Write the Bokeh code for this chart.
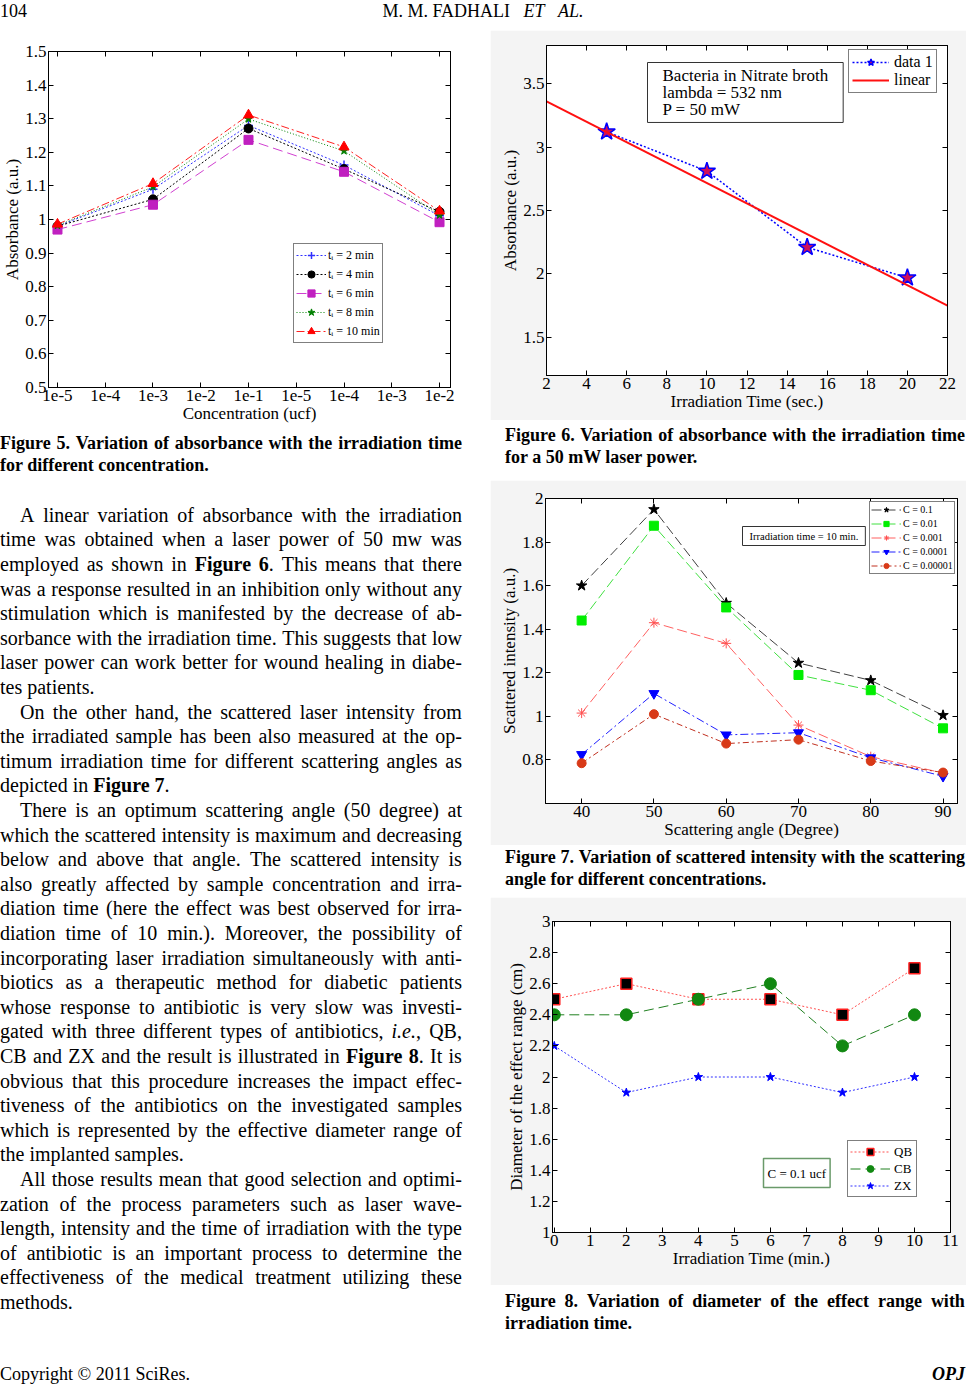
from bokeh.plotting import figure
from bokeh.models import (Range1d, FixedTicker, LinearAxis, Legend, LegendItem,
                          Label, Div, Spacer, PrintfTickFormatter, CustomJSTickFormatter)
from bokeh.layouts import column, row
from bokeh.embed import file_html
from bokeh.resources import INLINE

SERIF = "Liberation Serif"

# ---------------- Figure 5 data ----------------
f5_tick_pos = [1, 2, 3, 4, 5, 6, 7, 8, 9]
f5_tick_labels = ["1e-5", "1e-4", "1e-3", "1e-2", "1e-1", "1e-5", "1e-4", "1e-3", "1e-2"]
f5_pos = [1, 3, 5, 7, 9]
f5_t2 = [0.98, 1.09, 1.28, 1.162, 1.011]
f5_t4 = [0.98, 1.06, 1.271, 1.15, 1.023]
f5_t6 = [0.97, 1.044, 1.237, 1.142, 0.992]
f5_t8 = [0.982, 1.097, 1.299, 1.204, 1.013]
f5_t10 = [0.986, 1.107, 1.311, 1.216, 1.025]
f5_y_ticks = [0.5, 0.6, 0.7, 0.8, 0.9, 1.0, 1.1, 1.2, 1.3, 1.4, 1.5]

# ---------------- Figure 6 data ----------------
f6_time = [5, 10, 15, 20]
f6_abs = [3.12, 2.81, 2.21, 1.97]
f6_fit_time = [2, 22]
f6_fit_abs = [3.36, 1.75]
f6_x_ticks = [2, 4, 6, 8, 10, 12, 14, 16, 18, 20, 22]
f6_y_ticks = [1.5, 2.0, 2.5, 3.0, 3.5]

# ---------------- Figure 7 data ----------------
f7_angle = [40, 50, 60, 70, 80, 90]
f7_c1 = [1.60, 1.95, 1.52, 1.245, 1.165, 1.005]
f7_c01 = [1.44, 1.875, 1.50, 1.19, 1.12, 0.945]
f7_c001 = [1.015, 1.43, 1.335, 0.96, 0.815, 0.74]
f7_c0001 = [0.825, 1.105, 0.915, 0.925, 0.81, 0.725]
f7_c00001 = [0.785, 1.01, 0.875, 0.893, 0.795, 0.742]
f7_x_ticks = [40, 50, 60, 70, 80, 90]
f7_y_ticks = [0.8, 1.0, 1.2, 1.4, 1.6, 1.8, 2.0]

# ---------------- Figure 8 data ----------------
f8_time = [0, 2, 4, 6, 8, 10]
f8_qb = [2.5, 2.6, 2.5, 2.5, 2.4, 2.7]
f8_cb = [2.4, 2.4, 2.5, 2.6, 2.2, 2.4]
f8_zx = [2.2, 1.9, 2.0, 2.0, 1.9, 2.0]
f8_x_ticks = [0, 1, 2, 3, 4, 5, 6, 7, 8, 9, 10, 11]
f8_y_ticks = [1.0, 1.2, 1.4, 1.6, 1.8, 2.0, 2.2, 2.4, 2.6, 2.8, 3.0]


def base_fig(w, h, xr, yr, borders, xticks, yticks, xlabel, ylabel, bg,
             tick_fs="17px", label_fs="17px"):
    bl, br, bt, bb = borders
    p = figure(width=w, height=h, x_range=Range1d(*xr), y_range=Range1d(*yr),
               output_backend="svg", toolbar_location=None, title=None,
               min_border_left=bl, min_border_right=br, min_border_top=bt,
               min_border_bottom=bb, background_fill_color="white",
               border_fill_color=bg, frame_align=False)
    p.xgrid.visible = False
    p.ygrid.visible = False
    p.outline_line_color = "black"
    p.outline_line_alpha = 1.0
    xa = p.below[0]
    ya = p.left[0]
    xa.ticker = FixedTicker(ticks=xticks)
    ya.ticker = FixedTicker(ticks=yticks)
    xa.axis_label = xlabel
    ya.axis_label = ylabel
    for ax in (xa, ya):
        ax.formatter = PrintfTickFormatter(format="%g")
        ax.major_tick_in = 5
        ax.major_tick_out = 0
        ax.minor_tick_in = 0
        ax.minor_tick_out = 0
        ax.minor_tick_line_color = None
        ax.axis_line_color = "black"
        ax.major_tick_line_color = "black"
        ax.major_label_text_font = SERIF
        ax.major_label_text_font_size = tick_fs
        ax.major_label_text_color = "black"
        ax.axis_label_text_font = SERIF
        ax.axis_label_text_font_size = label_fs
        ax.axis_label_text_font_style = "normal"
        ax.axis_label_text_color = "black"
        ax.axis_label_standoff = 0
        ax.major_label_standoff = 2
    for loc, ticks in (("above", xticks), ("right", yticks)):
        m = LinearAxis(ticker=FixedTicker(ticks=ticks),
                       formatter=CustomJSTickFormatter(code="return ''"),
                       major_label_text_font_size="1px", major_label_text_color=None,
                       major_label_standoff=0, major_tick_in=5, major_tick_out=0,
                       minor_tick_in=0, minor_tick_out=0, minor_tick_line_color=None,
                       axis_line_color="black", major_tick_line_color="black")
        p.add_layout(m, loc)
    return p, xa, ya


def series(p, x, y, color, dash, marker, size, mfill, mline=None, lw=1.0, mlw=1.0):
    ln = p.line(x, y, line_color=color, line_dash=dash, line_width=lw)
    sc = p.scatter(x, y, marker=marker, size=size, fill_color=mfill,
                   line_color=mline if mline else mfill, line_width=mlw)
    return [ln, sc]


def make_legend(items, loc, fs, gw, gh, pad, spacing, standoff):
    return Legend(items=[LegendItem(label=l, renderers=r) for l, r in items],
                  location=loc, border_line_color="black", border_line_width=1,
                  background_fill_color="white", background_fill_alpha=1.0,
                  label_text_font=SERIF, label_text_font_size=fs,
                  label_text_color="black", glyph_width=gw, glyph_height=gh,
                  label_height=gh, spacing=spacing, padding=pad, margin=0,
                  label_standoff=standoff)


# ---------------- Figure 5 ----------------
p5, p5x, p5y = base_fig(462, 395, (0.812, 9.23), (0.5, 1.5), (47, 12, 21, 38),
                        f5_tick_pos, f5_y_ticks, "Concentration (ucf)", "Absorbance (a.u.)", "white")
p5x.formatter = CustomJSTickFormatter(
    args=dict(labels=f5_tick_labels),
    code="const i = Math.round(tick) - 1; return (i >= 0 && i < labels.length) ? labels[i] : '';")
r2 = series(p5, f5_pos, f5_t2, "#3030ff", "2 2", "cross", 9, "#3030ff", mlw=1.5)
r4 = series(p5, f5_pos, f5_t4, "black", "2 2", "circle", 9, "black")
r6 = series(p5, f5_pos, f5_t6, "#d040d0", "10 5", "square", 9, "#c020c0")
r8 = series(p5, f5_pos, f5_t8, "#008000", "1 2", "star", 8, "#008000")
r10 = series(p5, f5_pos, f5_t10, "#ff2020", "8 3 2 3", "triangle", 10, "#ff0000")
p5.add_layout(make_legend([("t\u1d62 = 2 min", r2), ("t\u1d62 = 4 min", r4),
                           ("t\u1d62 = 6 min", r6), ("t\u1d62 = 8 min", r8),
                           ("t\u1d62 = 10 min", r10)],
                          (245, 44), "12px", 30, 18, 2, 1, 2))

# ---------------- Figure 6 ----------------
GRAYBG = "#f4f4f4"
p6, _, _ = base_fig(476, 390, (2, 22), (1.2, 3.8), (56, 19, 15, 45),
                    f6_x_ticks, f6_y_ticks, "Irradiation Time (sec.)", "Absorbance (a.u.)", GRAYBG)
d1 = series(p6, f6_time, f6_abs, "blue", "2 2", "star", 18, "#d0105a", mline="blue", lw=1.5, mlw=1.5)
lin = p6.line(f6_fit_time, f6_fit_abs, line_color="#ff1010", line_width=2)
p6.add_layout(make_legend([("data 1", d1), ("linear", [lin])],
                          (302, 282), "16px", 37, 18, 3, 0, 5))
p6.add_layout(Label(x=101, y=313, x_units="screen", y_units="screen",
                    text="Bacteria in Nitrate broth\nlambda = 532 nm\nP = 50 mW",
                    text_font=SERIF, text_font_size="17px", text_align="left",
                    text_baseline="top", text_line_height=0.92, text_color="black",
                    border_line_color="#333333", border_line_width=1,
                    background_fill_color="white", padding=(15, 3)))

# ---------------- Figure 7 ----------------
p7, _, _ = base_fig(476, 365, (35, 92), (0.6, 2.0), (55, 9, 18, 42),
                    f7_x_ticks, f7_y_ticks, "Scattering angle (Degree)", "Scattered intensity (a.u.)", GRAYBG)
c1 = series(p7, f7_angle, f7_c1, "#404040", "10 4", "star", 11, "black")
c01 = series(p7, f7_angle, f7_c01, "#40e040", "10 4", "square", 9, "#00ee00")
c001 = series(p7, f7_angle, f7_c001, "#ff6060", "10 4", "asterisk", 10, "#ff5050")
c0001 = series(p7, f7_angle, f7_c0001, "#2020ff", "8 3 2 3", "inverted_triangle", 10, "#0000ff")
c00001 = series(p7, f7_angle, f7_c00001, "#c03020", "6 3 2 3", "circle", 9, "#d83a18")
p7.add_layout(make_legend([("C = 0.1", c1), ("C = 0.01", c01), ("C = 0.001", c001),
                           ("C = 0.0001", c0001), ("C = 0.00001", c00001)],
                          (324, 229), "10px", 30, 13, 1, 1, 2))
p7.add_layout(Label(x=197, y=277, x_units="screen", y_units="screen",
                    text="Irradiation time = 10 min.",
                    text_font=SERIF, text_font_size="10.5px", text_align="left",
                    text_baseline="top", text_color="black",
                    border_line_color="#333333", border_line_width=1,
                    background_fill_color="white", padding=(7, 4)))

# ---------------- Figure 8 ----------------
p8, _, _ = base_fig(476, 388, (-0.05, 11), (1.0, 3.0), (62, 16, 24, 53),
                    f8_x_ticks, f8_y_ticks, "Irradiation Time (min.)", "Diameter of the effect range (cm)", GRAYBG)
qb = series(p8, f8_time, f8_qb, "#ff5050", "2 2", "square", 11, "black", mline="#ff2020", mlw=1.5)
cb = series(p8, f8_time, f8_cb, "#208020", "10 5", "circle", 12, "#118811")
zx = series(p8, f8_time, f8_zx, "#3030ff", "2 2", "star", 9, "#0000ff")
p8.add_layout(make_legend([("QB", qb), ("CB", cb), ("ZX", zx)],
                          (295, 35), "13px", 40, 17, 2, 0, 4))
p8.add_layout(Label(x=211, y=74, x_units="screen", y_units="screen",
                    text="C = 0.1 ucf",
                    text_font=SERIF, text_font_size="13px", text_align="left",
                    text_baseline="top", text_color="black",
                    border_line_color="#6a9a6a", border_line_width=1.5,
                    background_fill_color="white", padding=(4, 7)))

# ---------------- Page text ----------------
header_center = "M. M. FADHALI&nbsp;&nbsp;&nbsp;<i>ET</i>&nbsp;&nbsp;&nbsp;<i>AL.</i>"

cap5_lines = ["Figure 5. Variation of absorbance with the irradiation time",
              "for different concentration."]
cap6_lines = ["Figure 6. Variation of absorbance with the irradiation time",
              "for a 50 mW laser power."]
cap7_lines = ["Figure 7. Variation of scattered intensity with the scattering",
              "angle for different concentrations."]
cap8_lines = ["Figure 8. Variation of diameter of the effect range with",
              "irradiation time."]

# (text, kind) kind: "i" indented first line, "j" justified, "l" last line
body_lines = [
    ("A linear variation of absorbance with the irradiation", "i"),
    ("time was obtained when a laser power of 50 mw was", "j"),
    ("employed as shown in <b>Figure</b> <b>6</b>. This means that there", "j"),
    ("was a response resulted in an inhibition only without any", "j"),
    ("stimulation which is manifested by the decrease of ab-", "j"),
    ("sorbance with the irradiation time. This suggests that low", "j"),
    ("laser power can work better for wound healing in diabe-", "j"),
    ("tes patients.", "l"),
    ("On the other hand, the scattered laser intensity from", "i"),
    ("the irradiated sample has been also measured at the op-", "j"),
    ("timum irradiation time for different scattering angles as", "j"),
    ("depicted in <b>Figure 7</b>.", "l"),
    ("There is an optimum scattering angle (50 degree) at", "i"),
    ("which the scattered intensity is maximum and decreasing", "j"),
    ("below and above that angle. The scattered intensity is", "j"),
    ("also greatly affected by sample concentration and irra-", "j"),
    ("diation time (here the effect was best observed for irra-", "j"),
    ("diation time of 10 min.). Moreover, the possibility of", "j"),
    ("incorporating laser irradiation simultaneously with anti-", "j"),
    ("biotics as a therapeutic method for diabetic patients", "j"),
    ("whose response to antibiotic is very slow was investi-", "j"),
    ("gated with three different types of antibiotics, <i>i.e.</i>, QB,", "j"),
    ("CB and ZX and the result is illustrated in <b>Figure</b> <b>8</b>. It is", "j"),
    ("obvious that this procedure increases the impact effec-", "j"),
    ("tiveness of the antibiotics on the investigated samples", "j"),
    ("which is represented by the effective diameter range of", "j"),
    ("the implanted samples.", "l"),
    ("All those results mean that good selection and optimi-", "i"),
    ("zation of the process parameters such as laser wave-", "j"),
    ("length, intensity and the time of irradiation with the type", "j"),
    ("of antibiotic is an important process to determine the", "j"),
    ("effectiveness of the medical treatment utilizing these", "j"),
    ("methods.", "l"),
]


def line_html(html, top, left, width, lh, justify):
    base = (f"position:absolute;left:{left}px;top:{top:.1f}px;width:{width}px;"
            f"height:{lh}px;line-height:{lh}px;white-space:nowrap;")
    if justify:
        inner = "".join(f"<span>{w}</span>" for w in html.split(" "))
        return f'<div style="{base}display:flex;justify-content:space-between;">{inner}</div>'
    return f'<div style="{base}">{html}</div>'


def caption_html(lines, tops, left, width):
    out = []
    for k, (t, top) in enumerate(zip(lines, tops)):
        out.append(line_html(t, top, left, width, 22, k < len(lines) - 1))
    return ('<div style="font-weight:bold;font-size:18px;">' + "".join(out) + "</div>")


def box(inner, w, h):
    return (f'<div style="position:relative;width:{w}px;height:{h}px;'
            f"font-family:'Liberation Serif',serif;color:#000;font-size:20px;\">{inner}</div>")


header_div = Div(width=966, height=30, margin=0, text=box(
    '<div style="position:absolute;left:0;top:0;font-size:18px;line-height:22px;">104</div>'
    f'<div style="position:absolute;left:0;top:0;width:966px;text-align:center;font-size:18px;line-height:22px;">{header_center}</div>',
    966, 30))

ORIG_L = 425
parts = [caption_html(cap5_lines, [444 - ORIG_L - 12, 465.5 - ORIG_L - 12], 0, 462)]
for i, (t, kind) in enumerate(body_lines):
    c = 515.7 + 24.6 * i
    top = c - ORIG_L - 13
    if kind == "i":
        parts.append(line_html(t, top, 20, 442, 24, True))
    elif kind == "j":
        parts.append(line_html(t, top, 0, 462, 24, True))
    else:
        parts.append(line_html(t, top, 0, 462, 24, False))
parts.append('<div style="position:absolute;left:0;top:%dpx;font-size:18px;line-height:22px;">Copyright &copy; 2011 SciRes.</div>'
             % (1375 - ORIG_L - 12))
left_text = Div(width=462, height=961, margin=0, text=box("".join(parts), 462, 961))

cap6 = Div(width=476, height=60, margin=0,
           text=box(caption_html(cap6_lines, [436 - 420 - 12, 458 - 420 - 12], 15, 460), 476, 60))
cap7 = Div(width=476, height=52, margin=0,
           text=box(caption_html(cap7_lines, [858 - 845 - 12, 880 - 845 - 12], 15, 460), 476, 52))
cap8 = Div(width=476, height=55, margin=0,
           text=box(caption_html(cap8_lines, [1302 - 1285 - 12, 1324 - 1285 - 12], 15, 460), 476, 55))
foot_r = Div(width=476, height=46, margin=0, text=box(
    '<div style="position:absolute;left:15px;width:460px;text-align:right;top:%dpx;font-size:18px;line-height:22px;font-weight:bold;font-style:italic;">OPJ</div>'
    % (1375 - 1340 - 12), 476, 46))

left_col = column(p5, left_text, spacing=0)
right_col = column(p6, cap6, p7, cap7, p8, cap8, foot_r, spacing=0)
body = row(left_col, Spacer(width=28, height=10), right_col, spacing=0)
root = column(header_div, body, spacing=0)

open("out.html", "w").write(file_html(root, INLINE))
